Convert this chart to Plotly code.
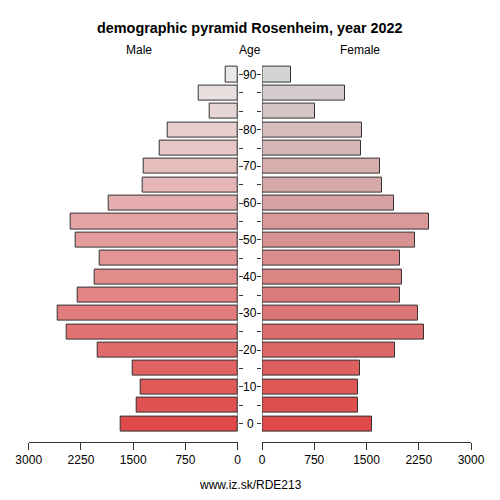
#population pyramid

import plotly.graph_objects as go

# age groups, bottom to top (20 rows, the top row is labelled 90)
age_rows = list(range(20))
age_tick_rows = [0, 2, 4, 6, 8, 10, 12, 14, 16, 19]
age_tick_labels = ['0', '10', '20', '30', '40', '50', '60', '70', '80', '90']

# youngest group first
male = [1675, 1455, 1392, 1503, 2015, 2460, 2589, 2297, 2053, 1976,
        2321, 2393, 1857, 1364, 1345, 1115, 1010, 398, 566, 172]
female = [1574, 1373, 1373, 1411, 1904, 2320, 2244, 1981, 2005, 1985,
          2191, 2392, 1899, 1727, 1689, 1421, 1435, 765, 1187, 421]

x_ticks = [0, 750, 1500, 2250, 3000]


def ramp(c0, c1, n):
    # simple colour gradient from c0 (bottom) to c1 (top)
    out = []
    for i in range(n):
        t = i / (n - 1)
        rgb = [round(a + (b - a) * t) for a, b in zip(c0, c1)]
        out.append('rgb(%d,%d,%d)' % tuple(rgb))
    return out


male_colors = ramp((223, 73, 73), (233, 231, 231), len(male))
female_colors = ramp((223, 73, 73), (212, 212, 212), len(female))

font = 'Liberation Sans, Arial, sans-serif'

# the page has an 8px body margin, so work in window pixels minus 8
W = 492


def px(p):
    return (p - 8) / W


def py(p):
    return 1 - (p - 8) / W


fig = go.Figure()

fig.add_trace(go.Bar(y=age_rows, x=male, orientation='h', width=0.82,
                     marker=dict(color=male_colors, line=dict(color='#333333', width=1)),
                     xaxis='x', yaxis='y', showlegend=False))
fig.add_trace(go.Bar(y=age_rows, x=female, orientation='h', width=0.82,
                     marker=dict(color=female_colors, line=dict(color='#333333', width=1)),
                     xaxis='x2', yaxis='y2', showlegend=False))

axis_x = dict(showgrid=False, zeroline=False, showline=True, linecolor='#333333', linewidth=1,
              ticks='outside', ticklen=7, tickcolor='#333333', tickvals=x_ticks,
              automargin=False,
              tickfont=dict(size=12, color='black', family=font))
axis_y = dict(showgrid=False, zeroline=False, showline=False, range=[-1, 19.6],
              ticks='outside', ticklen=4, tickcolor='#333333', tickvals=age_rows,
              showticklabels=False, automargin=False)

fig.update_layout(
    width=W, height=W,
    margin=dict(l=0, r=0, t=0, b=0),
    paper_bgcolor='white', plot_bgcolor='white',
    bargap=0,
    xaxis=dict(axis_x, domain=[px(28.7), px(237.7)], range=[3000, 0]),
    xaxis2=dict(axis_x, domain=[px(262), px(471)], range=[0, 3000], anchor='y2'),
    yaxis=dict(axis_y, domain=[py(442), py(63.6)], side='right', anchor='x'),
    yaxis2=dict(axis_y, domain=[py(442), py(63.6)], side='left', anchor='x2'),
)

# vertical axis lines running from the first to the last row
for xr, yr in [('x', 'y'), ('x2', 'y2')]:
    fig.add_shape(type='line', xref=xr, yref=yr, x0=0, x1=0, y0=-0.41, y1=19.41,
                  line=dict(color='#333333', width=1))

# age labels in the middle
for row, lab in zip(age_tick_rows, age_tick_labels):
    fig.add_annotation(x=px(250), xref='paper', y=row, yref='y', text=lab, showarrow=False,
                       font=dict(size=12, color='black', family=font))

texts = [
    (250, 28, '<b>demographic pyramid Rosenheim, year 2022</b>', 14.4),
    (139, 50, 'Male', 12),
    (250, 50, 'Age', 12),
    (360, 50, 'Female', 12),
    (250, 485, 'www.iz.sk/RDE213', 12),
]
for x, ypix, t, s in texts:
    fig.add_annotation(x=px(x), xref='paper', y=py(ypix), yref='paper', text=t,
                       showarrow=False, xanchor='center', yanchor='middle',
                       font=dict(size=s, color='black', family=font))

fig.write_html("out.html")
